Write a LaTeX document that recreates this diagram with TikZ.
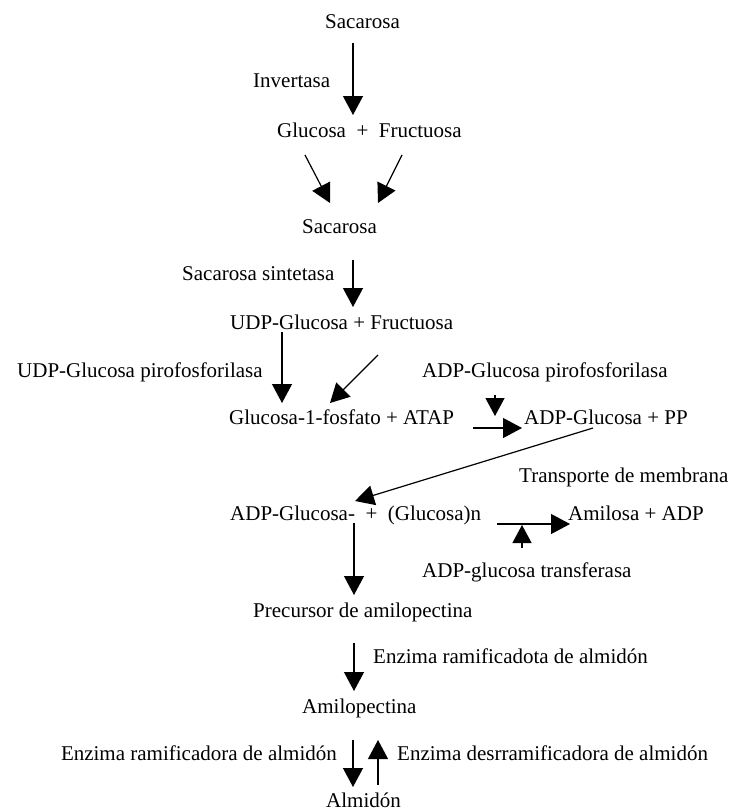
\documentclass[tikz,border=0pt]{standalone}
\usepackage{fontspec}
\setmainfont{Liberation Serif}
\usetikzlibrary{arrows.meta}
\begin{document}
\begin{tikzpicture}[x=1pt,y=-1pt,
  lbl/.style={inner sep=0pt, anchor=base west, font=\fontsize{21}{25}\selectfont},
  arr/.style={line width=1.2pt, -{Triangle[length=19pt,width=20pt]}},
  sarr/.style={line width=1.2pt, -{Triangle[length=18pt,width=19pt]}}]
\useasboundingbox (0,0) rectangle (731,811);
% texts
\node[lbl] (sac1) at (325,28) {Sacarosa};
\node[lbl] (inv) at (253,87) {Invertasa};
\node[lbl] (glufru) at (277,137) {Glucosa\ \ +\ \ Fructuosa};
\node[lbl] (sac2) at (302,233) {Sacarosa};
\node[lbl] (sacsin) at (182,280) {Sacarosa sintetasa};
\node[lbl] (udpfru) at (230,329) {UDP-Glucosa + Fructuosa};
\node[lbl] (udppiro) at (17,377) {UDP-Glucosa pirofosforilasa};
\node[lbl] (adppiro) at (422,377) {ADP-Glucosa pirofosforilasa};
\node[lbl] (g1p) at (229,424) {Glucosa-1-fosfato + ATAP};
\node[lbl] (adppp) at (524,424) {ADP-Glucosa + PP};
\node[lbl] (trans) at (519,482) {Transporte de membrana};
\node[lbl] (adpglun) at (230,520) {ADP-Glucosa-\ \ +\ \ (Glucosa)n};
\node[lbl] (amil) at (568,520) {Amilosa + ADP};
\node[lbl] (adptr) at (422,577) {ADP-glucosa transferasa};
\node[lbl] (prec) at (253,617) {Precursor de amilopectina};
\node[lbl] (ramt) at (373,663) {Enzima ramificadota de almidón};
\node[lbl] (amp) at (302,713) {Amilopectina};
\node[lbl, anchor=base east] (ram) at (337,760) {Enzima ramificadora de almidón};
\node[lbl] (desr) at (397,760) {Enzima desrramificadora de almidón};
\node[lbl] (alm) at (326,807) {Almidón};
% arrow end points
\coordinate (a1s) at (353,43);   \coordinate (a1e) at (353,115);
\coordinate (a2ls) at (305,155); \coordinate (a2le) at (330,203);
\coordinate (a2rs) at (402,155); \coordinate (a2re) at (378,203);
\coordinate (a3s) at (353,260);  \coordinate (a3e) at (353,307);
\coordinate (a4s) at (282,332);  \coordinate (a4e) at (282,403);
\coordinate (a5s) at (378,355);  \coordinate (a5e) at (330,403);
\coordinate (a6s) at (495,395);  \coordinate (a6e) at (495,416);
\coordinate (a7s) at (473,428);  \coordinate (a7e) at (522,428);
\coordinate (a8s) at (593,428);  \coordinate (a8e) at (355,501);
\coordinate (a9s) at (497,524);  \coordinate (a9e) at (570,524);
\coordinate (a10s) at (522,548); \coordinate (a10e) at (522,525);
\coordinate (a11s) at (354,523); \coordinate (a11e) at (354,595);
\coordinate (a12s) at (354,643); \coordinate (a12e) at (354,691);
\coordinate (a13s) at (353,740); \coordinate (a13e) at (353,787);
\coordinate (a14s) at (378,785); \coordinate (a14e) at (378,740);
% arrows
\draw[arr] (a1s) -- (a1e);
\draw[arr] (a2ls) -- (a2le);
\draw[arr] (a2rs) -- (a2re);
\draw[arr] (a3s) -- (a3e);
\draw[arr] (a4s) -- (a4e);
\draw[arr] (a5s) -- (a5e);
\draw[sarr] (a6s) -- (a6e);
\draw[arr] (a7s) -- (a7e);
\draw[arr] (a8s) -- (a8e);
\draw[arr] (a9s) -- (a9e);
\draw[sarr] (a10s) -- (a10e);
\draw[arr] (a11s) -- (a11e);
\draw[arr] (a12s) -- (a12e);
\draw[arr] (a13s) -- (a13e);
\draw[arr] (a14s) -- (a14e);
\end{tikzpicture}
\end{document}
